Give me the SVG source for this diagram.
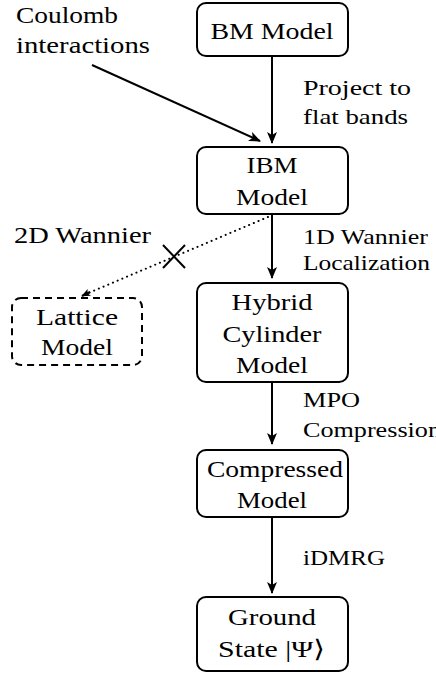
<svg xmlns="http://www.w3.org/2000/svg" width="436" height="673" viewBox="0 0 436 673">
<style>
  text { font-family: "Liberation Serif", "Times New Roman", Times, "Noto Serif", "DejaVu Serif", Tinos, FreeSerif, "Nimbus Roman", serif; font-size: 24px; fill: #000; }
  .c { text-anchor: middle; }
  .lbl { font-size: 22px; }
  .box { fill: #fff; stroke: #000; stroke-width: 2; }
  .dash { fill: #fff; stroke: #000; stroke-width: 2; stroke-dasharray: 7 5; }
  .edge { fill: none; stroke: #000; stroke-width: 2; }
  .dot { fill: none; stroke: #000; stroke-width: 2; stroke-dasharray: 0.1 5; stroke-linecap: round; }
</style>
<defs>
  <marker id="ah" viewBox="0 0 12 10" refX="11" refY="5" markerWidth="12" markerHeight="10" markerUnits="userSpaceOnUse" orient="auto">
    <path d="M0,0 L12,5 L0,10 L3,5 Z" fill="#000"/>
  </marker>
  <marker id="ahs" viewBox="0 0 12 10" refX="11" refY="5" markerWidth="9" markerHeight="7.5" markerUnits="userSpaceOnUse" orient="auto">
    <path d="M0,0 L12,5 L0,10 L3,5 Z" fill="#000"/>
  </marker>
</defs>

<g id="connectors">
  <line class="edge" x1="272" y1="56" x2="272" y2="143" marker-end="url(#ah)"/>
  <line class="edge" x1="92" y1="65" x2="260" y2="141" marker-end="url(#ah)"/>
  <line class="edge" x1="272" y1="214" x2="272" y2="278" marker-end="url(#ah)"/>
  <line class="edge" x1="272" y1="382" x2="272" y2="444" marker-end="url(#ah)"/>
  <line class="edge" x1="272" y1="517" x2="272" y2="593" marker-end="url(#ah)"/>
  <line class="dot" x1="268" y1="217" x2="86" y2="294"/>
  <line class="edge" x1="90" y1="292" x2="82" y2="296" marker-end="url(#ahs)" stroke-width="1"/>
  <g id="cross">
    <line class="edge" x1="163" y1="245" x2="185" y2="268"/>
    <line class="edge" x1="163" y1="268" x2="185" y2="245"/>
  </g>
  <text x="303" y="95" class="lbl" textLength="108" lengthAdjust="spacingAndGlyphs">Project to</text>
  <text x="303" y="124" class="lbl" textLength="105" lengthAdjust="spacingAndGlyphs">flat bands</text>
  <text x="303" y="244" class="lbl" textLength="125" lengthAdjust="spacingAndGlyphs">1D Wannier</text>
  <text x="303" y="270" class="lbl" textLength="127" lengthAdjust="spacingAndGlyphs">Localization</text>
  <text x="14" y="243" textLength="137" lengthAdjust="spacingAndGlyphs">2D Wannier</text>
  <text x="303" y="407" class="lbl" textLength="57" lengthAdjust="spacingAndGlyphs">MPO</text>
  <text x="303" y="437" class="lbl" textLength="138" lengthAdjust="spacingAndGlyphs">Compression</text>
  <text x="303" y="565" class="lbl" textLength="82" lengthAdjust="spacingAndGlyphs">iDMRG</text>
</g>

<g id="coulomb">
  <text x="16" y="23" textLength="102" lengthAdjust="spacingAndGlyphs">Coulomb</text>
  <text x="16" y="53" textLength="134" lengthAdjust="spacingAndGlyphs">interactions</text>
</g>

<g id="bm">
  <rect class="box" x="197" y="3" width="151" height="53" rx="9"/>
  <text class="c" x="272" y="39" textLength="123" lengthAdjust="spacingAndGlyphs">BM Model</text>
</g>

<g id="ibm">
  <rect class="box" x="197" y="147" width="151" height="67" rx="9"/>
  <text class="c" x="272" y="173" textLength="51" lengthAdjust="spacingAndGlyphs">IBM</text>
  <text class="c" x="272" y="205" textLength="72" lengthAdjust="spacingAndGlyphs">Model</text>
</g>

<g id="lattice">
  <rect class="dash" x="12" y="298" width="130" height="67" rx="9"/>
  <text class="c" x="77" y="325" textLength="82" lengthAdjust="spacingAndGlyphs">Lattice</text>
  <text class="c" x="77" y="355" textLength="72" lengthAdjust="spacingAndGlyphs">Model</text>
</g>

<g id="hybrid">
  <rect class="box" x="197" y="283" width="151" height="99" rx="9"/>
  <text class="c" x="272" y="310" textLength="81" lengthAdjust="spacingAndGlyphs">Hybrid</text>
  <text class="c" x="272" y="342" textLength="99" lengthAdjust="spacingAndGlyphs">Cylinder</text>
  <text class="c" x="272" y="373" textLength="72" lengthAdjust="spacingAndGlyphs">Model</text>
</g>

<g id="compressed">
  <rect class="box" x="197" y="450" width="151" height="67" rx="9"/>
  <text class="c" x="275" y="477" textLength="136" lengthAdjust="spacingAndGlyphs">Compressed</text>
  <text class="c" x="272" y="508" textLength="70" lengthAdjust="spacingAndGlyphs">Model</text>
</g>

<g id="ground">
  <rect class="box" x="197" y="597" width="151" height="74" rx="9"/>
  <text class="c" x="272" y="625" textLength="88" lengthAdjust="spacingAndGlyphs">Ground</text>
  <text class="c" x="271.5" y="657" textLength="107" lengthAdjust="spacingAndGlyphs">State |Ψ⟩</text>
</g>
</svg>
